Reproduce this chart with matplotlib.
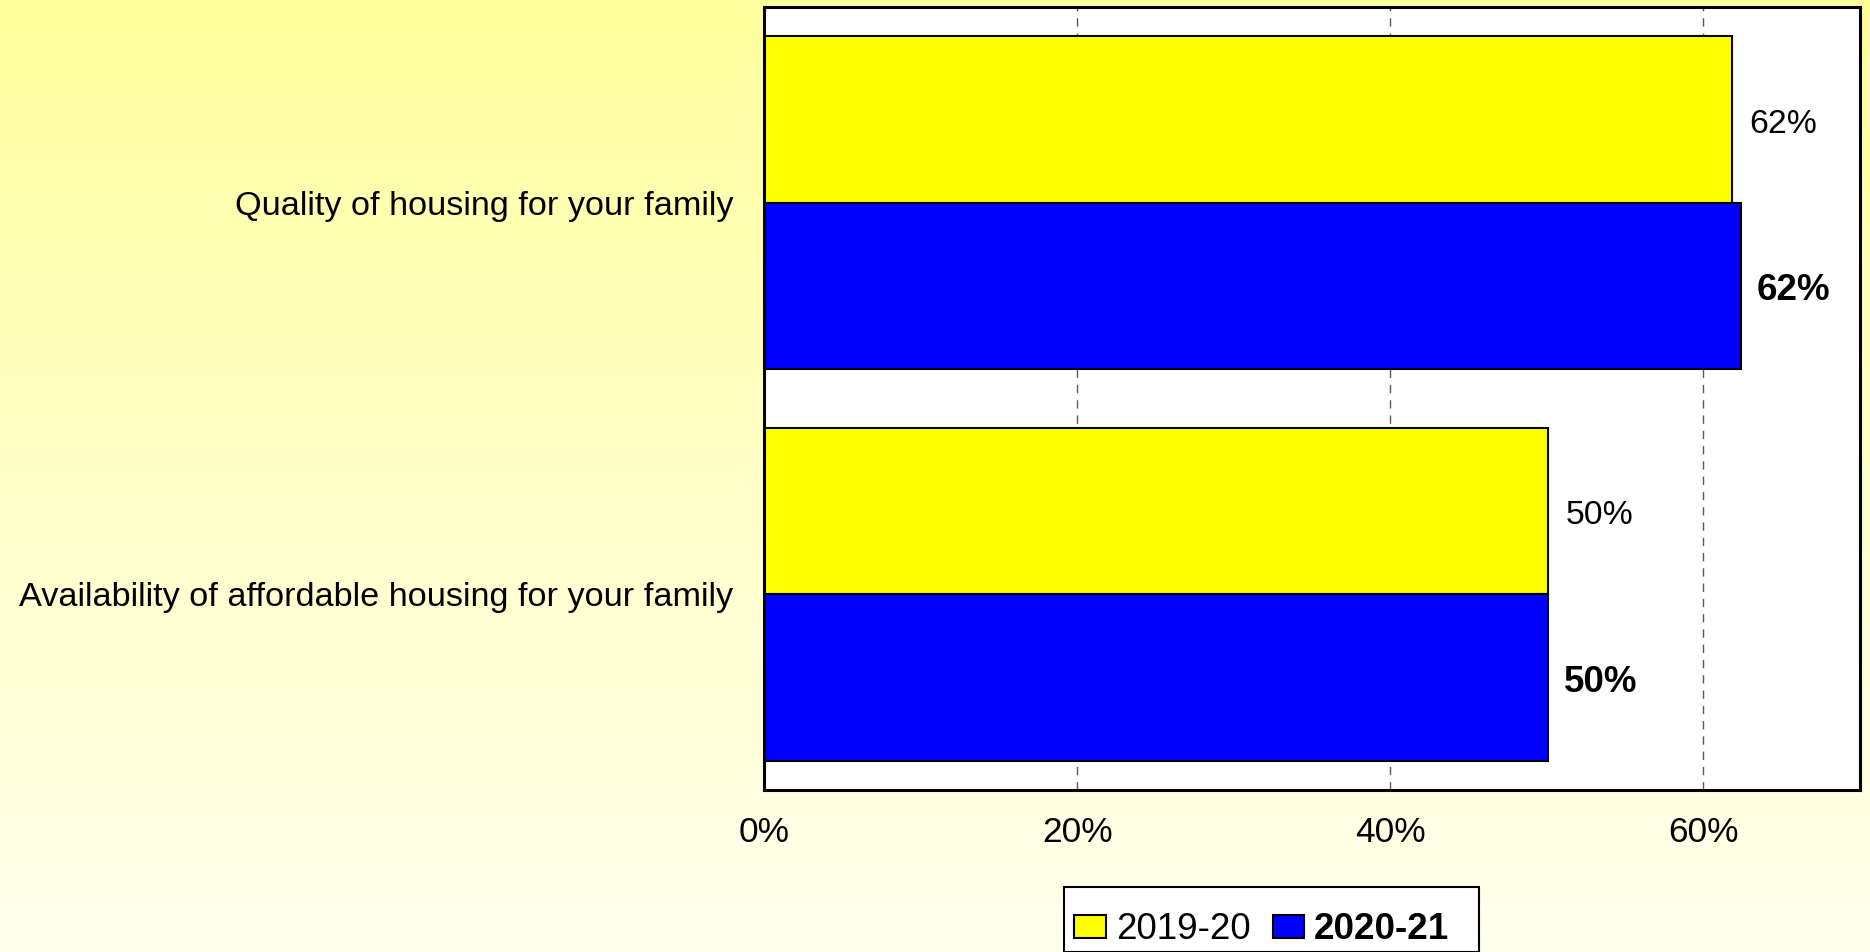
import numpy as np
import matplotlib
matplotlib.use("Agg")
import matplotlib.pyplot as plt
from matplotlib.colors import LinearSegmentedColormap
from matplotlib.patches import Rectangle

plt.rcParams['font.family'] = ['Liberation Sans', 'DejaVu Sans']

# Survey results (% satisfied)
categories = ["Quality of housing for your family",
              "Availability of affordable housing for your family"]
series_names = ["2019-20", "2020-21"]
values_2019 = [61.8, 50.1]
values_2020 = [62.4, 50.1]
x_ticks = [0, 20, 40, 60]
x_tick_labels = ["0%", "20%", "40%", "60%"]

W, H, DPI = 1870, 952, 100
fig = plt.figure(figsize=(W / DPI, H / DPI), dpi=DPI)

# Soft vertical yellow-to-cream background
bg = fig.add_axes([0, 0, 1, 1], zorder=-10)
grad = np.linspace(0, 1, 256).reshape(-1, 1)
cmap = LinearSegmentedColormap.from_list("bg", ["#FFFF9E", "#FFFFC8", "#FFFFEE"])
bg.imshow(grad, aspect="auto", cmap=cmap, extent=[0, 1, 0, 1], origin="upper")
bg.set_axis_off()

ax = fig.add_axes([764 / W, 1 - 790 / H, (1860 - 764) / W, (790 - 7) / H])
ax.set_facecolor("white")

pos = np.arange(len(categories))
bar_h = 0.425
bars_a = ax.barh(pos - bar_h / 2, values_2019, height=bar_h, color="#FFFF00",
                 edgecolor="black", linewidth=1.5, label=series_names[0], zorder=3)
bars_b = ax.barh(pos + bar_h / 2, values_2020, height=bar_h, color="#0000FF",
                 edgecolor="black", linewidth=1.5, label=series_names[1], zorder=3)

label_styles = ((bars_a, values_2019, "normal", 24.3, 12.5),
                (bars_b, values_2020, "bold", 26.5, 11.5))
for bars, vals, weight, size, dx in label_styles:
    for rect, v in zip(bars, vals):
        ax.annotate(f"{v:.0f}%", xy=(v, rect.get_y() + rect.get_height() / 2),
                    xytext=(dx, -3.5), textcoords="offset points",
                    ha="left", va="center", fontsize=size, fontweight=weight,
                    color="black")

ax.set_xlim(0, 70)
ax.set_ylim(1.5, -0.5)
ax.set_xticks(x_ticks)
ax.set_xticklabels(x_tick_labels, fontsize=25.5)
ax.set_yticks(pos)
ax.set_yticklabels(categories, fontsize=24.7)
ax.tick_params(axis="x", length=0, pad=19)
ax.tick_params(axis="y", length=0, pad=22)

for xv in x_ticks[1:]:
    ax.axvline(xv, color="#5a5a5a", linewidth=1, linestyle=(0, (6, 5)), zorder=1)

for s in ax.spines.values():
    s.set_linewidth(2.2)
    s.set_color("black")
    s.set_zorder(5)

# Legend box below the plot (drawn beneath the plot axes so the entries sit on top)
fig.patches.append(Rectangle((1064 / W, 0), (1479 - 1064) / W, (H - 897) / H + 0.01,
                             transform=fig.transFigure, facecolor="white",
                             edgecolor="black", linewidth=1.5, zorder=-5))
leg = ax.legend(loc="upper left", bbox_to_anchor=(1065 / W, 1 - 903 / H),
                bbox_transform=fig.transFigure, ncol=2, fontsize=26.5,
                handlelength=0.86, handleheight=0.6, handletextpad=0.27,
                columnspacing=0.6, borderpad=0.25, borderaxespad=0,
                frameon=False)
leg.get_texts()[1].set_fontweight("bold")

fig.savefig("out.png", dpi=DPI)
